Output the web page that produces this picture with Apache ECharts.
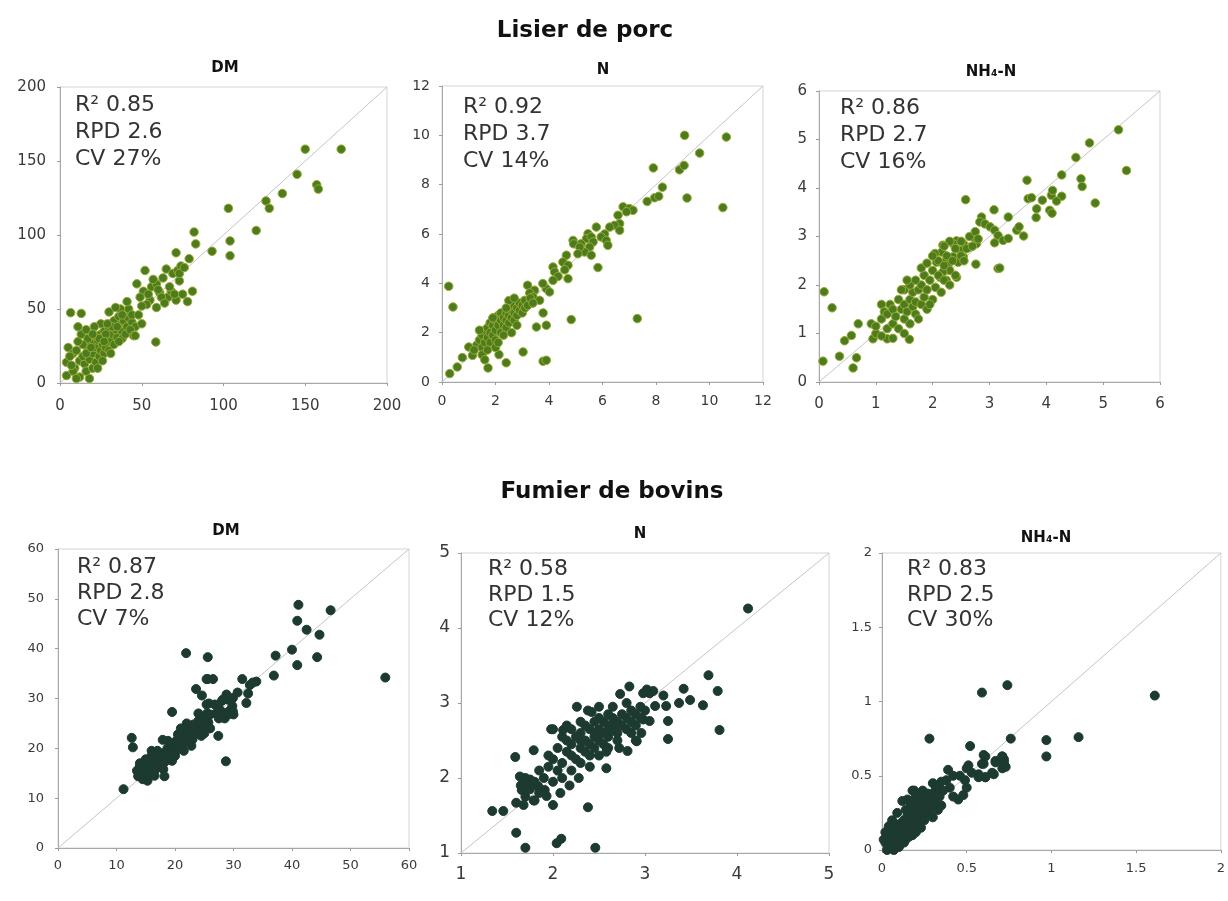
<!DOCTYPE html>
<html><head><meta charset="utf-8">
<script src="https://cdn.jsdelivr.net/npm/echarts@6/dist/echarts.min.js"></script>
<style>html,body{margin:0;padding:0;background:#fff}#c{width:1228px;height:901px}</style>
</head><body><div id="c"></div>
<script>
// ---------- text ----------
const groupTitles = ['Lisier de porc', 'Fumier de bovins'];
const panelTitles = ['DM', 'N', 'NH\u2084-N', 'DM', 'N', 'NH\u2084-N'];
const notes = [
  ['R\u00b2 0.85', 'RPD 2.6', 'CV 27%'],
  ['R\u00b2 0.92', 'RPD 3.7', 'CV 14%'],
  ['R\u00b2 0.86', 'RPD 2.7', 'CV 16%'],
  ['R\u00b2 0.87', 'RPD 2.8', 'CV 7%'],
  ['R\u00b2 0.58', 'RPD 1.5', 'CV 12%'],
  ['R\u00b2 0.83', 'RPD 2.5', 'CV 30%']
];
// ---------- axis ranges [min, max, interval] ----------
const axisPigDM = [0, 200, 50];
const axisPigN = [0, 12, 2];
const axisPigNH4 = [0, 6, 1];
const axisCowDM = [0, 60, 10];
const axisCowN = [1, 5, 1];
const axisCowNH4 = [0, 2, 0.5];

// ---------- data [reference, predicted] ----------
const pigDM = [
[5,24],[8,20],[4,14],[9,10],[12,15],[15,13],[4,5],[8,8],[12,4],[18,3],[6,18],[10,22],[14,18],[16,8],[20,10],[18,16],[22,14],[20,20],[24,18],[17,23],[22,24],[25,22],[27,20],[19,27],[23,29],[26,26],[28,24],[30,22],[21,32],[25,33],[29,30],[31,28],[33,26],[27,35],[30,37],[32,33],[35,31],[34,36],[36,40],[38,35],[33,42],[36,45],[39,42],[41,38],[40,47],[42,44],[37,50],[30,48],[34,51],[44,41],[46,38],[25,40],[21,38],[17,30],[14,26],[11,28],[13,33],[16,36],[24,30],[28,33],[32,38],[35,38],[38,30],[40,33],[43,36],[45,32],[36,28],[31,20],[26,15],[23,10],[16,20],[19,24],[29,40],[42,50],[44,46],[48,46],[50,40],[46,32],[41,55],[38,46],[27,28],[20,33],[10,3],[7,12],
[6.5,47.5],[13,47],[11,38],[47,67],[51,62],[56,65],[61,61],[66,58],[71,56],[55,56],[59,51],[58.6,27.7],[52,76],[59,67],[63,71],[65,77],[69,74],[72,76],[74,79],[73,69],[71,88],[78,55],[81,62],[79,84],[82,102],[83,94],[93,89],[103,118],[104,96],[104,86],[120,103],[126,123],[128,118],[136,128],[145,141],[150,158],[157,134],[158,131],[172,158],[54,60],[62,58],[68,62],[75,60],[64,54],[60,63],[57,70],[49,58],[53,53],[67,65],[73,74],[76,78],[70,60],[50,52]
];
const pigN = [
[9.07,10],[10.63,9.93],[9.63,9.28],[7.9,8.68],[8.88,8.6],[9.05,8.78],[8.24,7.9],[9.16,7.46],[10.5,7.07],[7.67,7.32],[7.95,7.47],[8.1,7.53],
[6.77,7.1],[7.0,7.03],[7.14,6.96],[6.9,6.9],[6.58,6.76],[6.64,6.42],[6.45,6.35],[6.64,6.15],[6.27,6.28],[6.08,6.0],[5.95,5.88],[6.14,5.74],[6.2,5.54],[5.77,6.28],
[5.46,6.01],[5.4,5.81],[5.58,5.88],[5.65,5.68],[5.52,5.47],[5.33,5.27],[5.58,5.14],[5.2,5.6],[4.9,5.74],[4.92,5.6],[5.15,5.47],[5.08,5.2],[5.83,4.64],[4.65,5.14],
[4.52,4.86],[4.71,4.73],[4.59,4.55],[4.71,4.19],[4.15,4.66],[4.21,4.46],[4.34,4.28],[4.15,4.12],[3.9,3.78],[3.77,3.99],[4.02,3.65],
[3.2,3.92],[3.46,3.72],[3.28,3.61],[3.4,3.45],[3.09,3.31],[2.97,3.18],[3.21,3.18],[3.65,3.31],[3.78,2.8],[3.9,2.3],[3.53,2.23],[4.83,2.53],[7.3,2.57],
[3.03,1.22],[3.78,0.84],[3.9,0.88],[2.13,1.11],[2.4,0.78],[1.72,0.57],[0.25,3.88],[0.41,3.04],[0.29,0.34],[0.57,0.61],[0.76,0.99],[1.0,1.42],[1.14,1.08],
[1.3,1.5],[1.4,1.7],[1.5,1.4],[1.5,1.9],[1.6,1.6],[1.6,2.1],[1.7,1.8],[1.7,2.2],[1.8,1.6],[1.8,2.0],[1.8,2.4],[1.9,1.9],[1.9,2.3],[2.0,2.1],[2.0,2.5],[2.0,1.7],[2.1,2.3],[2.1,2.7],[2.2,2.0],[2.2,2.5],[2.2,2.8],[2.3,2.3],[2.3,2.6],[2.4,2.2],[2.4,2.5],[2.4,2.8],[2.5,2.4],[2.5,2.7],[2.5,3.0],[2.6,2.6],[2.6,2.9],[2.7,2.5],[2.7,2.8],[2.7,3.1],[2.8,2.7],[2.8,3.0],[2.9,2.9],[2.9,3.2],[3.0,2.8],[3.0,3.1],[3.1,3.0],[3.1,3.3],[3.2,3.1],[3.3,3.4],[3.4,3.2],[1.4,2.1],[1.5,1.1],[1.6,0.9],[1.7,1.3],[2.0,1.4],[2.1,1.6],[2.3,1.9],[2.6,2.0],[2.8,2.3],[2.5,3.3],[2.7,3.4],[1.2,1.3],[1.9,2.6],[2.4,3.0]
];
const pigNH4 = [
[5.27,5.2],[4.76,4.93],[4.52,4.63],[5.41,4.36],[4.27,4.27],[4.61,4.19],[4.63,4.03],[4.86,3.69],[3.66,4.16],[2.58,3.76],[3.68,3.78],[3.74,3.8],[3.93,3.75],[4.09,3.85],[4.11,3.95],[4.27,3.83],[4.18,3.73],[3.83,3.57],[3.82,3.39],[4.06,3.54],[4.1,3.48],
[3.08,3.55],[3.33,3.4],[2.86,3.4],[2.83,3.3],[2.92,3.26],[3.01,3.2],[3.09,3.13],[3.15,3.02],[3.24,2.92],[3.33,2.96],[3.48,3.13],[3.6,3.01],[3.52,3.2],[3.09,2.87],[3.15,2.34],[3.18,2.35],[2.76,2.43],
[2.71,2.99],[2.77,2.85],[2.65,2.78],[2.54,2.85],[2.42,2.91],[2.36,2.85],[2.48,2.71],[2.54,2.58],[2.36,2.58],[2.45,2.47],[2.18,2.82],[2.16,2.68],[2.04,2.65],[2.07,2.47],[2.24,2.51],[2.27,2.41],[2.3,2.3],[2.18,2.27],[2.13,2.16],[2.42,2.16],[2.24,2.1],
[1.59,0.88],[1.2,0.89],[0.95,0.89],[0.92,1.2],[0.69,1.2],[0.57,0.96],[0.45,0.85],[0.36,0.53],[0.66,0.5],[0.6,0.29],[0.07,0.43],[0.09,1.86],[0.23,1.53],
[1.1,1.3],[1.1,1.6],[1.15,1.45],[1.2,1.1],[1.2,1.4],[1.25,1.6],[1.3,1.2],[1.3,1.5],[1.35,1.35],[1.4,1.7],[1.4,1.1],[1.45,1.5],[1.5,1.3],[1.5,1.6],[1.5,1.9],[1.55,1.45],[1.6,1.7],[1.6,1.2],[1.65,1.55],[1.65,1.85],[1.7,1.4],[1.7,1.65],[1.75,1.9],[1.75,1.3],[1.8,1.6],[1.8,2.0],[1.85,1.75],[1.85,2.2],[1.9,1.5],[1.9,1.9],[1.95,2.1],[2.0,1.7],[2.0,2.3],[2.05,1.95],[2.1,2.2],[2.1,2.5],[2.15,1.85],[2.2,2.4],[2.2,2.1],[2.25,2.6],[2.3,2.0],[2.35,2.5],[2.4,2.2],[2.4,2.75],[2.5,2.6],[2.5,2.9],[2.55,2.5],[2.6,2.75],[2.65,3.0],[2.7,2.8],[2.75,3.1],[2.8,2.95],[1.6,2.0],[1.7,2.1],[1.8,2.35],[1.9,2.45],[2.0,2.6],[1.55,2.1],[1.3,0.9],[1.5,1.0],[1.0,1.0],[1.0,1.15],[1.1,0.95],[2.3,2.9],[2.2,2.8],[1.95,1.6],[1.45,1.9]
];
const cowDM = [
[13.5,15.5],[14,14.5],[14.2,16],[14.5,13.8],[14.8,15.2],[15,16.5],[15.2,14.2],[15.5,15.8],[15.7,17],[16,15],[16.2,16.5],[16.5,17.8],[16.7,15.8],[17,17],[17.2,18.5],[17.5,16.5],[17.7,17.8],[18,19],[18.2,17.2],[18.5,18.5],[18.7,20],[19,18],[19.2,19.5],[19.5,20.8],[19.7,19],[20,20.2],[20.2,21.5],[20.5,19.8],[20.7,21],[21,22.3],[21.2,20.5],[21.5,21.8],[21.7,23],[22,21.5],[22.2,22.8],[22.5,24],[22.7,22.2],[23,23.5],[23.2,24.8],[23.5,23],[23.7,24.2],[24,25.5],[24.2,23.8],[24.5,25],[24.7,26.2],[25,24.5],[25.2,25.8],[25.5,27],[25.7,25.2],[26,24],[16,18.5],[17,19.5],[18,15.8],[19.5,17.5],[20.5,22.8],[21.5,19.5],[22,25],[23,21.8],[24,27],[25,23],[15,17.8],[14,17],[16.5,14.5],[18.8,21.5],[20,18.5],[21,24],[22.8,20.5],[24.5,22.5],[17.9,21.7],[16,19.5],[15.3,13.5],
[27,27],[27.3,28.5],[27.5,26],[28,29.5],[28.2,27.2],[28.5,26],[29,29.8],[29.3,27.5],[29.8,28.5],[30,26.8],[28.8,30.8],[29.9,30.1],[27.6,27.8],[27.3,26.8],[29.1,26.8],[29.9,27.4],[28.2,29.8],[26.8,28.8],[26,26.8],[25.8,29],
[55.95,34.2],[41.1,48.8],[46.6,47.7],[40.9,45.6],[42.5,43.8],[44.7,42.8],[40,39.8],[37.2,38.6],[44.3,38.3],[40.9,36.7],[36.9,34.6],[33.3,33.2],[33.9,33.4],[32.8,32.7],[31.5,33.9],[30.7,31.2],[32.5,31],[32.2,29.1],
[21.9,39.1],[25.6,38.3],[25.6,33.9],[26.5,33.9],[25.4,33.9],[23.6,31.9],[24.6,30.6],[25.4,28.8],[19.5,27.3],[27.4,22.5],[28.7,17.4],[12.6,22.1],[12.8,20.2],[18.2,14.4],[11.2,11.8],[14.5,15],[14,16.4],[13.7,14.4]
];
const cowN = [
[4.12,4.26],[3.69,3.37],[3.79,3.16],[3.63,2.97],[3.81,2.64],[3.42,3.19],[3.49,3.04],[3.37,3.0],[3.25,2.76],[3.25,2.52],[3.23,2.96],[3.2,3.1],[3.11,2.96],[3.05,3.13],[2.98,3.13],[3.02,3.18],[3.09,3.16],[2.83,3.22],[2.73,3.12],[3.05,2.76],[2.98,2.78],[2.96,2.6],[2.91,2.49],[2.81,2.36],[2.58,2.13],[2.38,1.61],[2.26,2.95],[2.38,2.9],[1.98,2.65],[2.11,2.64],[1.59,2.28],[1.79,2.37],[1.34,1.56],[1.46,1.56],[1.6,1.27],[1.7,1.07],[2.04,1.13],[2.09,1.19],[2.46,1.07],[1.6,1.67],[1.68,1.64],[1.79,1.7],[2.0,1.64],[1.64,2.02],[1.71,1.93],[1.66,1.84],[1.75,1.98],[1.84,1.89],[1.91,1.84],[1.93,1.76],
[1.9,2.0],[1.95,2.15],[2.0,1.95],[2.0,2.25],[2.05,2.1],[2.05,2.4],[2.1,2.2],[2.1,2.0],[2.15,2.35],[2.15,2.5],[2.2,2.1],[2.2,2.3],[2.2,2.45],[2.25,2.25],[2.25,2.55],[2.3,2.4],[2.3,2.2],[2.3,2.6],[2.35,2.35],[2.35,2.5],[2.4,2.3],[2.4,2.45],[2.4,2.65],[2.45,2.55],[2.45,2.4],[2.45,2.75],[2.5,2.5],[2.5,2.3],[2.5,2.65],[2.55,2.45],[2.55,2.6],[2.55,2.75],[2.6,2.55],[2.6,2.7],[2.6,2.4],[2.65,2.65],[2.65,2.8],[2.7,2.6],[2.7,2.75],[2.7,2.5],[2.75,2.7],[2.75,2.85],[2.8,2.65],[2.8,2.8],[2.85,2.75],[2.85,2.6],[2.9,2.85],[2.9,2.7],[2.95,2.8],[2.95,2.95],[3.0,2.9],[2.35,2.7],[2.28,2.0],[2.18,1.9],[2.08,1.8],[2.4,2.15],[2.6,2.85],[2.5,2.8],[2.3,2.75],[2.65,2.95],[2.8,3.0],[2.1,2.55],[2.2,2.65],[1.95,2.3],[1.85,2.1],[1.8,1.95],[1.75,1.85],[1.7,2.0],[1.65,1.9],[1.7,1.75],[1.8,1.7],[1.85,1.8],[2.58,2.35],[2.72,2.4],[2.9,2.5],[2.85,2.9],[2.5,2.95],[2.42,2.88],[2.15,2.7],[2.0,2.65],[2.3,2.5],[2.48,2.6],[2.62,2.62],[2.68,2.72]
];
const cowNH4 = [
[1.61,1.04],[0.74,1.11],[0.59,1.06],[0.28,0.75],[0.52,0.7],[0.76,0.75],[0.97,0.74],[0.97,0.63],[1.16,0.76],[0.71,0.63],[0.72,0.61],[0.73,0.56],[0.67,0.6],[0.6,0.64],[0.59,0.58],[0.66,0.51],[0.61,0.49],[0.57,0.51],
[0.38,0.47],[0.4,0.42],[0.42,0.36],[0.45,0.34],[0.48,0.37],[0.5,0.42],[0.49,0.47],[0.46,0.5],[0.42,0.5],[0.36,0.4],[0.35,0.46],
[0.39,0.54],[0.51,0.57],[0.5,0.55],[0.53,0.52],[0.57,0.49],[0.61,0.49],[0.65,0.52],[0.3,0.45],[0.32,0.42],[0.18,0.4],[0.15,0.34],[0.24,0.36],[0.28,0.32],[0.2,0.27],
[0.61,0.63],[0.6,0.58],[0.67,0.59],[0.71,0.63],[0.72,0.59],[0.71,0.55],
[0.02,0.05],[0.03,0.1],[0.04,0.02],[0.05,0.07],[0.05,0.13],[0.06,0.04],[0.07,0.09],[0.07,0.0],[0.08,0.05],[0.08,0.12],[0.09,0.15],[0.1,0.08],[0.1,0.02],[0.11,0.18],[0.12,0.1],[0.12,0.14],[0.13,0.05],[0.13,0.2],[0.14,0.12],[0.15,0.17],[0.15,0.23],[0.16,0.09],[0.16,0.14],[0.17,0.2],[0.18,0.26],[0.18,0.16],[0.19,0.22],[0.2,0.12],[0.2,0.3],[0.21,0.19],[0.22,0.25],[0.22,0.33],[0.23,0.22],[0.24,0.28],[0.25,0.2],[0.25,0.35],[0.26,0.3],[0.27,0.25],[0.28,0.34],[0.29,0.28],[0.3,0.38],[0.3,0.22],[0.31,0.32],[0.33,0.27],[0.34,0.36],[0.35,0.3],[0.32,0.42],[0.27,0.38],[0.24,0.4],[0.2,0.36],[0.16,0.33],[0.12,0.33],[0.09,0.25],[0.06,0.2],[0.04,0.16],[0.02,0.12],[0.03,0.0],[0.09,0.03],[0.14,0.07],[0.18,0.1],[0.23,0.15],[0.05,0.1],[0.1,0.12],[0.11,0.06],[0.14,0.27],[0.17,0.29],[0.19,0.4],[0.08,0.17],[0.01,0.07],[0.06,0.15]
];

// ---------- layout ----------
const pigColor = '#4c7c1f', pigBorder = '#9aab2e', cowColor = '#1d3a31';
const panels = [
  {data: pigDM, ax: axisPigDM, g: {left: 60, top: 87, width: 327, height: 296}, c: pigColor, b: pigBorder, s: 8.5, t: [225, 68], n: [75, 92], lh: 27, fs: 15, xm: 16, ym: 14},
  {data: pigN, ax: axisPigN, g: {left: 442, top: 86, width: 321, height: 296}, c: pigColor, b: pigBorder, s: 8.5, t: [603, 70], n: [463, 94], lh: 27, fs: 14, xm: 12, ym: 12},
  {data: pigNH4, ax: axisPigNH4, g: {left: 819, top: 91, width: 341, height: 291}, c: pigColor, b: pigBorder, s: 8.5, t: [991, 72], n: [840, 95], lh: 27, fs: 15, xm: 15, ym: 12},
  {data: cowDM, ax: axisCowDM, g: {left: 58, top: 549, width: 351, height: 299}, c: cowColor, b: cowColor, s: 9, t: [226, 531], n: [77, 554], lh: 26, fs: 13, xm: 11, ym: 14},
  {data: cowN, ax: axisCowN, g: {left: 461, top: 553, width: 368, height: 300}, c: cowColor, b: cowColor, s: 9, t: [640, 534], n: [488, 557], lh: 25.5, fs: 17, xm: 13, ym: 11},
  {data: cowNH4, ax: axisCowNH4, g: {left: 882, top: 553, width: 345, height: 297}, c: cowColor, b: cowColor, s: 9, t: [1046, 538], n: [907, 557], lh: 25.5, fs: 13, xm: 12, ym: 10}
];

const FONT = '"DejaVu Sans", "Liberation Sans", Arial, sans-serif';
const grids = [], xAxes = [], yAxes = [], series = [], graphics = [];
panels.forEach((p, i) => {
  grids.push(Object.assign({show: true, borderColor: '#d4d4d4', borderWidth: 1, backgroundColor: 'transparent'}, p.g));
  const axisCommon = (m) => ({
    type: 'value', gridIndex: i, min: p.ax[0], max: p.ax[1], interval: p.ax[2],
    axisLine: {show: true, onZero: false, lineStyle: {color: '#a8a8a8', width: 1}},
    axisTick: {show: true, length: 3, lineStyle: {color: '#9a9a9a'}},
    splitLine: {show: false},
    axisLabel: {color: '#3a3a3a', fontSize: p.fs, fontFamily: FONT, margin: m, showMaxLabel: true, showMinLabel: true}
  });
  xAxes.push(axisCommon(p.xm));
  yAxes.push(axisCommon(p.ym));
  series.push({
    type: 'line', xAxisIndex: i, yAxisIndex: i, silent: true, symbol: 'none',
    lineStyle: {color: '#c4c4c4', width: 1}, data: [[p.ax[0], p.ax[0]], [p.ax[1], p.ax[1]]], z: 1
  });
  series.push({
    type: 'scatter', xAxisIndex: i, yAxisIndex: i, symbolSize: p.s, data: p.data, z: 2,
    itemStyle: {color: p.c, borderColor: p.b, borderWidth: 1, opacity: 1}
  });
  graphics.push({type: 'text', x: p.t[0], y: p.t[1], style: {text: panelTitles[i], font: 'bold 15px ' + FONT, fill: '#111', align: 'center', verticalAlign: 'middle'}});
  graphics.push({type: 'text', x: p.n[0], y: p.n[1], style: {text: notes[i].join('\n'), font: '22px ' + FONT, lineHeight: p.lh, fill: '#333', align: 'left', verticalAlign: 'top'}});
});
graphics.push({type: 'text', x: 585, y: 31, style: {text: groupTitles[0], font: 'bold 23px ' + FONT, fill: '#111', align: 'center', verticalAlign: 'middle'}});
graphics.push({type: 'text', x: 612, y: 492, style: {text: groupTitles[1], font: 'bold 23px ' + FONT, fill: '#111', align: 'center', verticalAlign: 'middle'}});

const chart = echarts.init(document.getElementById('c'));
chart.setOption({
  backgroundColor: '#fff',
  animation: false,
  grid: grids, xAxis: xAxes, yAxis: yAxes, series: series, graphic: graphics
});
</script></body></html>
